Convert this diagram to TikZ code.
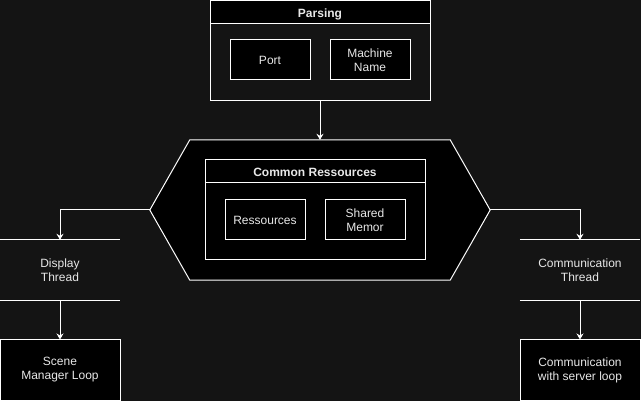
\documentclass[tikz,border=0pt]{standalone}
\usepackage{fontspec}
\setmainfont{Liberation Sans}
\usetikzlibrary{arrows.meta, positioning}
\definecolor{bgdark}{RGB}{20,20,20}
\definecolor{txtlight}{RGB}{232,232,232}
\tikzset{
  box/.style={draw=white, fill=black, line width=1pt, align=center, minimum width=80pt, minimum height=40pt, inner sep=0pt, text=txtlight},
  lane/.style={draw=white, line width=1pt, minimum width=220pt, minimum height=100pt, inner sep=0pt},
  header/.style={draw=white, fill=black, line width=1pt, minimum width=220pt, minimum height=23pt, inner sep=0pt, text height=10.5pt, text depth=0pt, text=txtlight, font=\fontsize{12}{14}\selectfont\bfseries},
  hexbody/.style={minimum width=340pt, minimum height=140pt, inner sep=0pt},
  thread/.style={align=center, minimum width=120pt, minimum height=60pt, inner sep=0pt, text=txtlight},
  loopbox/.style={box, minimum width=120pt, minimum height=60pt},
  arrow/.style={-{Stealth[length=6pt, width=7pt]}, draw=white, line width=1pt},
  edge line/.style={draw=white, line width=1pt},
  every node/.style={font=\fontsize{12}{14}\selectfont}
}

\begin{document}
\begin{tikzpicture}[x=1pt, y=-1pt]
    \useasboundingbox[fill=bgdark] (0,0) rectangle (641,401);

    % parsing
    \node[lane] (parsing) at (320,50.5) {};
    \node[header] (parsingtitle) at (320,12) {Parsing};
    \node[box] (port) at (270,60) {Port};
    \node[box] (machine) at (370,60) {Machine\\Name};

    % common resources
    \node[hexbody] (common) at (320,210) {};
    \draw[edge line, fill=black] (common.west) -- ([xshift=40pt]common.north west) -- ([xshift=-40pt]common.north east)
        -- (common.east) -- ([xshift=-40pt]common.south east) -- ([xshift=40pt]common.south west) -- cycle;
    \node[lane] (commonlane) at (315,210) {};
    \node[header] (commontitle) at (315,171.5) {Common Ressources};
    \node[box] (ressources) at (265,220) {Ressources};
    \node[box] (shared) at (365,220) {Shared\\Memor};

    % threads
    \node[thread] (display) at (60,270) {Display\\Thread};
    \draw[edge line] (display.north west) -- (display.north east);
    \draw[edge line] (display.south west) -- (display.south east);
    \node[loopbox] (scene) at (60,370) {Scene\\Manager Loop};

    \node[thread] (commthread) at (580,270) {Communication\\Thread};
    \draw[edge line] (commthread.north west) -- (commthread.north east);
    \draw[edge line] (commthread.south west) -- (commthread.south east);
    \node[loopbox] (commloop) at (580,370) {Communication\\with server loop};

    \draw[arrow] (parsing.south) -- (common.north);
    \draw[arrow] (common.west) -| (display.north);
    \draw[arrow] (common.east) -| (commthread.north);
    \draw[arrow] (display.south) -- (scene.north);
    \draw[arrow] (commthread.south) -- (commloop.north);
\end{tikzpicture}
\end{document}
